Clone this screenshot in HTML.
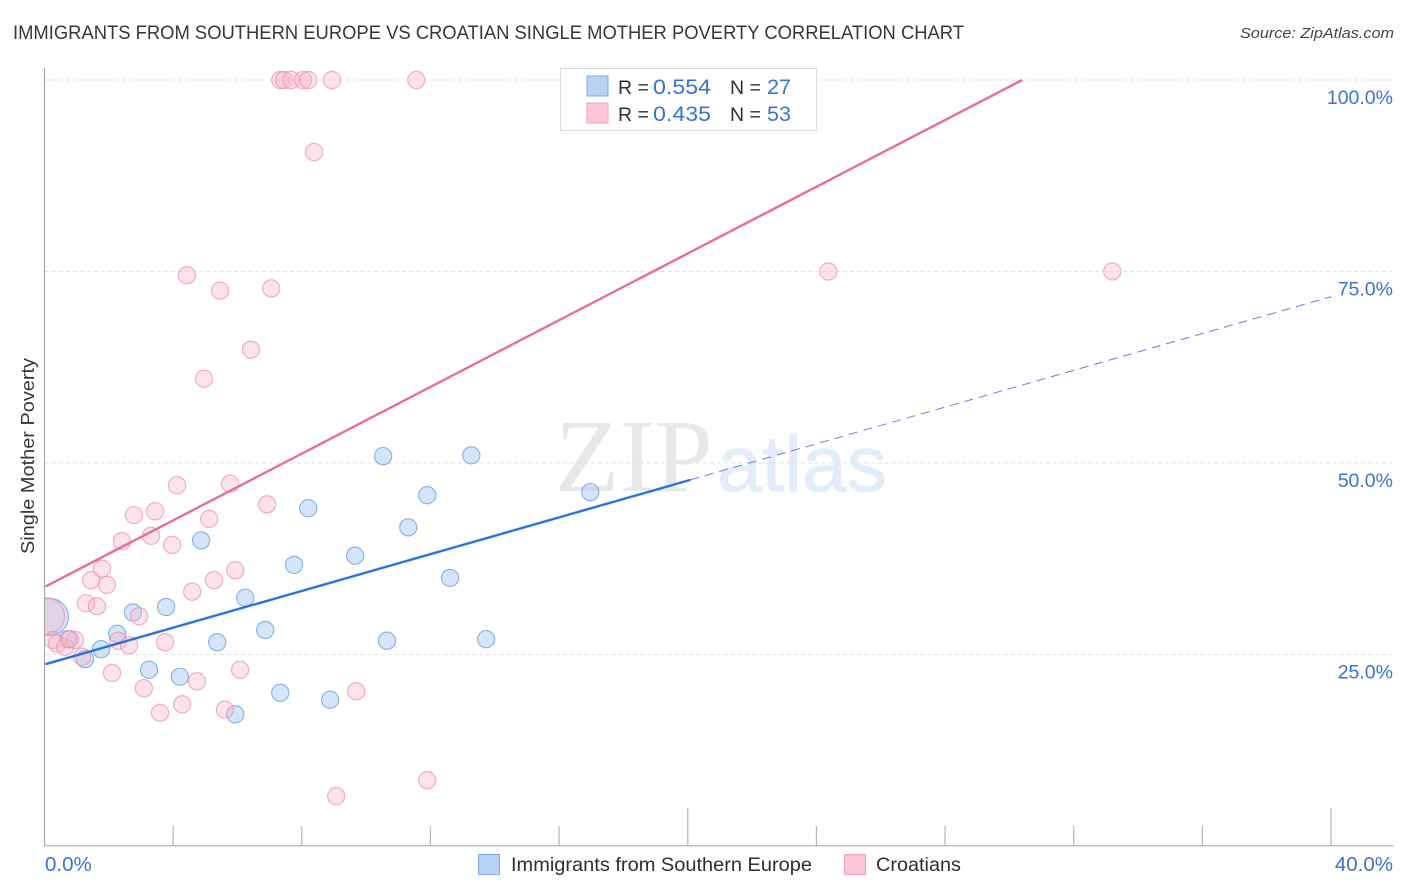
<!DOCTYPE html>
<html lang="en">
<head>
<meta charset="utf-8">
<title>Immigrants from Southern Europe vs Croatian Single Mother Poverty Correlation Chart</title>
<style>
html,body{margin:0;padding:0;background:#fff;}
svg{display:block;font-family:"Liberation Sans",sans-serif;}
</style>
</head>
<body>
<svg id="chart" width="1406" height="892" viewBox="0 0 1406 892" xmlns="http://www.w3.org/2000/svg">
  <defs>
    <clipPath id="plot-clip"><rect x="45" y="60" width="1349" height="786"/></clipPath>
  </defs>
  <rect width="1406" height="892" fill="#fff"/>
  <text x="13" y="39" font-size="19" fill="#33373d" textLength="951" lengthAdjust="spacingAndGlyphs">IMMIGRANTS FROM SOUTHERN EUROPE VS CROATIAN SINGLE MOTHER POVERTY CORRELATION CHART</text>
  <text x="1394" y="38" font-size="15" font-style="italic" fill="#444" text-anchor="end" textLength="154" lengthAdjust="spacingAndGlyphs">Source: ZipAtlas.com</text>
  <g>
    <text x="555" y="491" font-family="'Liberation Serif',serif" font-size="104" fill="#e8e8e8" textLength="158" lengthAdjust="spacingAndGlyphs">ZIP</text>
    <text x="717" y="491" font-family="'Liberation Sans',sans-serif" font-size="79" fill="#e3edfa" stroke="#e3edfa" stroke-width="0.8" textLength="170" lengthAdjust="spacingAndGlyphs">atlas</text>
  </g>
  <g id="grid"></g>
  <g id="axes"></g>
  <g id="marks" clip-path="url(#plot-clip)"></g>
  <g id="lines"></g>
  <text transform="translate(34 456) rotate(-90)" font-size="18.5" fill="#33373d" text-anchor="middle" textLength="196" lengthAdjust="spacingAndGlyphs">Single Mother Poverty</text>

  <g>
    <rect x="560.5" y="68.5" width="256" height="62" fill="#fff" stroke="#dcdcdc" stroke-width="1"/>
    <rect x="587" y="76" width="21" height="20" fill="#b6d3f6" stroke="#7fabe3" stroke-width="1"/>
    <rect x="587" y="103" width="21" height="20" fill="#fcc6d8" stroke="#f0a0bb" stroke-width="1"/>
    <text x="618" y="94" font-size="19.5" fill="#2b2f36">R =</text>
    <text x="653" y="94" font-size="21" fill="#3a72d4" textLength="58" lengthAdjust="spacingAndGlyphs">0.554</text>
    <text x="730" y="94" font-size="19.5" fill="#2b2f36">N =</text>
    <text x="767" y="94" font-size="21" fill="#3a72d4" textLength="24" lengthAdjust="spacingAndGlyphs">27</text>
    <text x="618" y="121" font-size="19.5" fill="#2b2f36">R =</text>
    <text x="653" y="121" font-size="21" fill="#3a72d4" textLength="58" lengthAdjust="spacingAndGlyphs">0.435</text>
    <text x="730" y="121" font-size="19.5" fill="#2b2f36">N =</text>
    <text x="767" y="121" font-size="21" fill="#3a72d4" textLength="24" lengthAdjust="spacingAndGlyphs">53</text>
  </g>

  <g>
    <rect x="478.5" y="854.5" width="21" height="20" fill="#b6d3f6" stroke="#7fabe3" stroke-width="1"/>
    <text x="511" y="871" font-size="19.5" fill="#2b2f36" textLength="301" lengthAdjust="spacingAndGlyphs">Immigrants from Southern Europe</text>
    <rect x="844.5" y="854.5" width="21" height="20" fill="#fcc6d8" stroke="#f0a0bb" stroke-width="1"/>
    <text x="876" y="871" font-size="19.5" fill="#2b2f36" textLength="85" lengthAdjust="spacingAndGlyphs">Croatians</text>
  </g>
</svg>
<script>
const yTickValues = [25, 50, 75, 100];
const yTickLabels = ["25.0%", "50.0%", "75.0%", "100.0%"];
const xTickValues = [4, 8, 12, 16, 20, 24, 28, 32, 36, 40];
const xMajorTicks = [20, 40];
const xEndLabels = ["0.0%", "40.0%"];

const blueX = [0.17,0.73,1.26,1.76,2.26,2.75,3.25,3.78,4.21,4.87,5.37,5.93,6.24,6.86,7.33,7.76,8.20,8.88,9.66,10.53,10.65,11.31,11.90,12.61,13.27,13.73,16.97];
const blueY = [29.9,27.0,24.4,25.7,27.7,30.5,23.0,31.2,22.1,39.9,26.6,17.2,32.4,28.2,20.0,36.7,44.1,19.1,37.9,50.9,26.8,41.6,45.8,35.0,51.0,27.0,46.2];

const pinkX = [0.05,0.26,0.39,0.64,0.95,0.79,1.17,1.29,1.63,1.45,1.79,1.94,2.10,2.29,2.63,2.94,3.09,3.59,3.75,4.28,4.74,4.59,5.27,5.93,5.61,6.08,2.41,3.31,3.97,2.78,3.44,4.12,5.12,5.77,6.92,4.96,6.42,4.43,5.46,7.05,8.38,7.33,7.45,7.67,8.04,8.20,8.94,11.56,24.37,33.20,9.69,11.90,9.07];
const pinkY = [30.0,26.9,26.4,26.0,26.9,27.0,24.7,31.7,31.3,34.7,36.2,34.1,22.6,26.8,26.2,30.0,20.6,17.4,26.6,18.5,21.5,33.2,34.7,36.0,17.8,23.0,39.8,40.5,39.3,43.2,43.7,47.1,42.7,47.3,44.6,61.0,64.8,74.5,72.5,72.8,90.6,100,100,100,100,100,100,100,75,75,20.2,8.6,6.5];

const blueTrend = [23.7, 71.7];
const blueTrendSolidEnd = 20.08;
const pinkTrend = [33.8, 100];
const pinkTrendEnd = 30.4;

const NS = "http://www.w3.org/2000/svg";
const xAt = function (v) { return 44.5 + v * (1331 - 44.5) / 40; };
const yAt = function (v) { return 846 - v * (846 - 80) / 100; };

function make(tag, attrs, parent) {
  const el = document.createElementNS(NS, tag);
  Object.keys(attrs).forEach(function (k) { el.setAttribute(k, attrs[k]); });
  parent.appendChild(el);
  return el;
}

const gridG = document.getElementById("grid");
const axesG = document.getElementById("axes");
const marksG = document.getElementById("marks");
const linesG = document.getElementById("lines");
const LABEL_BLUE = "#3a72d4";

yTickValues.forEach(function (v, i) {
  const line = make("line", {x1: 45, x2: 1393, y1: yAt(v), y2: yAt(v), stroke: "#e2e2e2", "stroke-width": 1, "stroke-dasharray": "4 3"}, gridG);
  
  
  const label = make("text", {x: 1393, y: yAt(v) + 24, "font-size": 19.5, fill: LABEL_BLUE, "text-anchor": "end"}, axesG);
  label.textContent = yTickLabels[i];
  
  
});

const yAxis = make("line", {x1: 44.5, x2: 44.5, y1: 68, y2: 846, stroke: "#aaa", "stroke-width": 1.2}, axesG);


const xAxis = make("line", {x1: 44, x2: 1394, y1: 845.8, y2: 845.8, stroke: "#aaa", "stroke-width": 1.2}, axesG);



xTickValues.forEach(function (v) {
  const top = xMajorTicks.indexOf(v) >= 0 ? 808 : 826;
  const tick = make("line", {x1: xAt(v), x2: xAt(v), y1: top, y2: 846, stroke: "#b5b5b5", "stroke-width": 1.2}, axesG);
  
  
});

const xLabelLeft = make("text", {x: 45, y: 871, "font-size": 20.5, fill: LABEL_BLUE}, axesG);
xLabelLeft.textContent = xEndLabels[0];


const xLabelRight = make("text", {x: 1393, y: 871, "font-size": 20.5, fill: LABEL_BLUE, "text-anchor": "end"}, axesG);
xLabelRight.textContent = xEndLabels[1];



function drawPoints(xs, ys, fill, fillOpacity, stroke, seriesName) {
  xs.forEach(function (x, i) {
    const c = make("circle", {cx: xAt(x), cy: yAt(ys[i]), r: i === 0 ? 18.5 : 8.6, fill: fill, "fill-opacity": fillOpacity, stroke: stroke, "stroke-opacity": 0.75, "stroke-width": 1.1}, marksG);
    
    
  });
}
drawPoints(blueX, blueY, "#a9cbf3", 0.5, "#5f9be0", "point-southern-europe");
drawPoints(pinkX, pinkY, "#f7b3c9", 0.38, "#ec8fae", "point-croatians");

const blueAt = function (x) { return blueTrend[0] + (blueTrend[1] - blueTrend[0]) * x / 40; };
const pinkAt = function (x) { return pinkTrend[0] + (pinkTrend[1] - pinkTrend[0]) * x / pinkTrendEnd; };

const blueDash = make("line", {x1: xAt(blueTrendSolidEnd), y1: yAt(blueAt(blueTrendSolidEnd)), x2: xAt(40), y2: yAt(blueAt(40)), stroke: "#5f86d6", "stroke-width": 1, "stroke-dasharray": "9 6"}, linesG);


const blueSolid = make("line", {x1: xAt(0.03), y1: yAt(blueAt(0.03)), x2: xAt(blueTrendSolidEnd), y2: yAt(blueAt(blueTrendSolidEnd)), stroke: "#2a72d8", "stroke-width": 2.4}, linesG);


const pinkSolid = make("line", {x1: xAt(0.03), y1: yAt(pinkAt(0.03)), x2: xAt(pinkTrendEnd), y2: yAt(pinkAt(pinkTrendEnd)), stroke: "#ec6a9a", "stroke-width": 2.4}, linesG);


</script>
</body>
</html>
